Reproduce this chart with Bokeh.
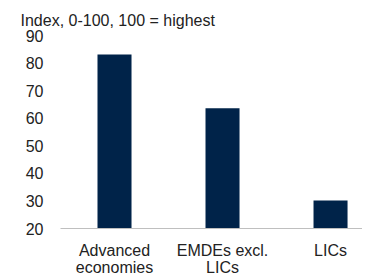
from bokeh.plotting import figure
from bokeh.models import Range1d, FixedTicker
from bokeh.embed import file_html
from bokeh.resources import INLINE

categories = ["Advanced\neconomies", "EMDEs excl.\nLICs", "LICs"]
values = [83.1, 63.6, 30.2]
y_ticks = [20, 30, 40, 50, 60, 70, 80, 90]
y_min, y_max = 20, 90
title_text = "Index, 0-100, 100 = highest"

positions = list(range(len(categories)))

FONT = "Liberation Sans"
TEXT = "#222222"

p = figure(width=362, height=279, output_backend="svg", toolbar_location=None,
           x_range=Range1d(-0.5, 2.296), y_range=Range1d(y_min, y_max),
           min_border_left=60, min_border_right=0, min_border_top=35, min_border_bottom=40)

p.vbar(x=positions, top=values, bottom=y_min, width=0.315,
       fill_color="#002349", line_color=None)

p.title.text = title_text
p.title.text_font = FONT
p.title.text_font_size = "16px"
p.title.text_font_style = "normal"
p.title.text_color = TEXT
p.title.align = "left"
p.title.offset = -40
p.title.standoff = 14

p.xgrid.visible = False
p.ygrid.visible = False
p.outline_line_color = None

p.yaxis.ticker = FixedTicker(ticks=y_ticks)
p.yaxis.axis_line_color = None
p.yaxis.major_tick_line_color = None
p.yaxis.minor_tick_line_color = None
p.yaxis.major_label_standoff = 11
p.yaxis.major_label_text_font = FONT
p.yaxis.major_label_text_font_size = "16px"
p.yaxis.major_label_text_color = TEXT

p.xaxis.ticker = FixedTicker(ticks=positions)
p.xaxis.major_label_overrides = {i: c for i, c in zip(positions, categories)}
p.xaxis.axis_line_color = "#bfbfbf"
p.xaxis.axis_line_width = 1
p.xaxis.major_tick_line_color = None
p.xaxis.minor_tick_line_color = None
p.xaxis.major_label_standoff = 7
p.xaxis.major_label_text_line_height = 1.05
p.xaxis.major_label_text_font = FONT
p.xaxis.major_label_text_font_size = "16px"
p.xaxis.major_label_text_color = TEXT

open("out.html", "w").write(file_html(p, INLINE))
